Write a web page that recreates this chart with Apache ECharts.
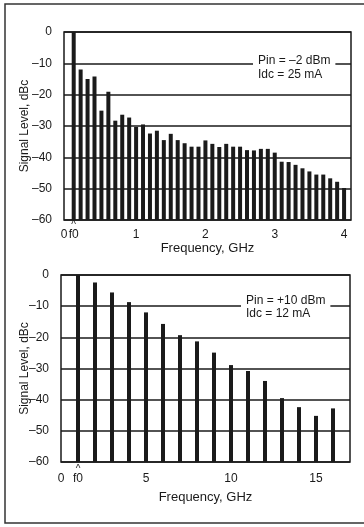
<!DOCTYPE html>
<html>
<head>
<meta charset="utf-8">
<script src="https://cdn.jsdelivr.net/npm/echarts@6/dist/echarts.min.js"></script>
<style>
  html, body { margin: 0; padding: 0; background: #fff; }
  #chart { width: 364px; height: 527px; }
</style>
</head>
<body>
<div id="chart"></div>
<script>
// upper spectrum: f0 = 0.1 GHz, Pin = -2 dBm
const topFreq = [
  0.1, 0.2, 0.3, 0.4, 0.5, 0.6, 0.7, 0.8, 0.9, 1.0,
  1.1, 1.2, 1.3, 1.4, 1.5, 1.6, 1.7, 1.8, 1.9, 2.0,
  2.1, 2.2, 2.3, 2.4, 2.5, 2.6, 2.7, 2.8, 2.9, 3.0,
  3.1, 3.2, 3.3, 3.4, 3.5, 3.6, 3.7, 3.8, 3.9, 4.0
];
const topLevel = [
  0, -12.0, -15.0, -14.2, -25.1, -19.1, -28.3, -26.4, -27.3, -30.3,
  -29.5, -32.4, -31.5, -34.5, -32.5, -34.5, -35.5, -36.6, -36.6, -34.6,
  -35.7, -36.7, -35.7, -36.6, -36.6, -37.7, -37.8, -37.3, -37.3, -38.5,
  -41.4, -41.5, -42.4, -43.5, -44.5, -45.5, -45.5, -46.7, -47.8, -49.8
];
// the "0" of the upper axis sits on the frame edge, left of f0
const topTicks = [-0.04, 0.1, 1, 2, 3, 4];

// lower spectrum: f0 = 1 GHz, Pin = +10 dBm
const botFreq = [1, 2, 3, 4, 5, 6, 7, 8, 9, 10, 11, 12, 13, 14, 15, 16];
const botLevel = [
  0, -2.4, -5.6, -8.7, -12.0, -15.7, -19.3, -21.3,
  -24.9, -28.9, -30.8, -34.0, -39.5, -42.4, -45.2, -42.8
];
const botTicks = [0, 1, 5, 10, 15];

const topNote = 'Pin = \u20132 dBm\nIdc = 25 mA';
const botNote = 'Pin = +10 dBm\nIdc = 12 mA';

const FONT = '"Liberation Sans", Arial, Helvetica, sans-serif';
const INK = '#1a1a1a';
const FLOOR = -60;

function renderBar(params, api) {
  const x = api.value(0);
  const top = api.coord([x, api.value(1)]);
  const base = api.coord([x, FLOOR]);
  const w = 4;
  return {
    type: 'rect',
    shape: { x: top[0] - w / 2, y: top[1], width: w, height: base[1] - top[1] },
    style: { fill: INK }
  };
}

function xLabel(f0) {
  return v => {
    if (v <= 0) return '{c| }\n{t|0}';
    if (Math.abs(v - f0) < 1e-9) return '{c|^}\n{t|f0}';
    return '{c| }\n{t|' + v + '}';
  };
}

function xRich(capH) {
  return {
    c: { fontFamily: FONT, fontSize: 10, lineHeight: capH, color: INK },
    t: { fontFamily: FONT, fontSize: 12, lineHeight: 12, color: INK }
  };
}

const yLabel = v => (v === 0 ? '0' : '\u2013' + Math.abs(v));

function yAxisFor(gridIndex, gap) {
  return {
    gridIndex,
    type: 'value',
    min: FLOOR,
    max: 0,
    interval: 10,
    name: 'Signal Level, dBc',
    nameLocation: 'middle',
    nameGap: gap,
    nameMoveOverlap: false,
    nameTextStyle: { fontFamily: FONT, fontSize: 12, color: INK },
    axisLine: { show: false },
    axisTick: { show: false },
    axisLabel: { formatter: yLabel, fontFamily: FONT, fontSize: 12, color: INK, margin: 12 },
    splitLine: { show: true, lineStyle: { color: INK, width: 1.5 } }
  };
}

const chart = echarts.init(document.getElementById('chart'));

chart.setOption({
  animation: false,
  backgroundColor: '#fff',
  grid: [
    { left: 64, right: 13, top: 32, bottom: 307, show: true, borderColor: INK, borderWidth: 1.5 },
    { left: 61, right: 14, top: 275, bottom: 65, show: true, borderColor: INK, borderWidth: 1.5 }
  ],
  xAxis: [
    {
      gridIndex: 0,
      type: 'value',
      min: -0.04,
      max: 4.1,
      name: 'Frequency, GHz',
      nameLocation: 'middle',
      nameGap: 19,
      nameTextStyle: { fontFamily: FONT, fontSize: 13, color: INK },
      axisLine: { show: false },
      axisTick: { show: false },
      splitLine: { show: false },
      axisLabel: {
        customValues: topTicks,
        hideOverlap: false,
        margin: 1,
        formatter: xLabel(0.1),
        rich: xRich(8)
      }
    },
    {
      gridIndex: 1,
      type: 'value',
      min: 0,
      max: 17,
      name: 'Frequency, GHz',
      nameLocation: 'middle',
      nameGap: 29,
      nameTextStyle: { fontFamily: FONT, fontSize: 13, color: INK },
      axisLine: { show: false },
      axisTick: { show: false },
      splitLine: { show: false },
      axisLabel: {
        customValues: botTicks,
        hideOverlap: false,
        margin: 3,
        formatter: xLabel(1),
        rich: xRich(8)
      }
    }
  ],
  yAxis: [yAxisFor(0, 33), yAxisFor(1, 30)],
  series: [
    {
      type: 'custom',
      xAxisIndex: 0,
      yAxisIndex: 0,
      renderItem: renderBar,
      encode: { x: 0, y: 1 },
      data: topFreq.map((f, i) => [f, topLevel[i]])
    },
    {
      type: 'custom',
      xAxisIndex: 1,
      yAxisIndex: 1,
      renderItem: renderBar,
      encode: { x: 0, y: 1 },
      data: botFreq.map((f, i) => [f, botLevel[i]])
    }
  ],
  graphic: [
    {
      type: 'rect',
      z: -1,
      shape: { x: 5, y: 4, width: 370, height: 519 },
      style: { fill: 'none', stroke: '#333', lineWidth: 1.5 }
    },
    {
      type: 'text',
      left: 253,
      top: 53,
      z: 10,
      style: {
        text: topNote,
        font: '12px ' + FONT,
        lineHeight: 14,
        fill: INK,
        backgroundColor: '#fff',
        padding: [1, 5, 1, 5]
      }
    },
    {
      type: 'text',
      left: 241,
      top: 293,
      z: 10,
      style: {
        text: botNote,
        font: '12px ' + FONT,
        lineHeight: 13,
        fill: INK,
        backgroundColor: '#fff',
        padding: [1, 5, 1, 5]
      }
    }
  ]
});

window.addEventListener('resize', () => chart.resize());
</script>
</body>
</html>
